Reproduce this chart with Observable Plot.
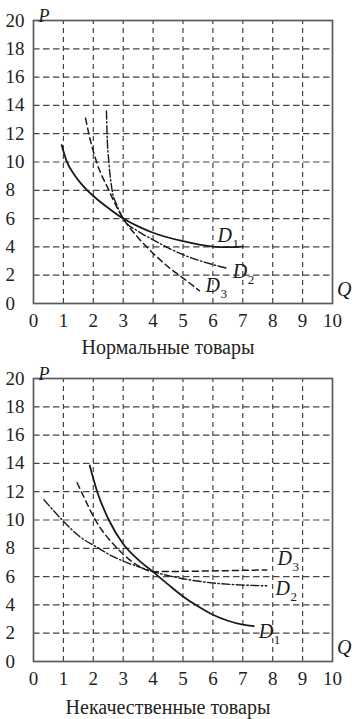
<!DOCTYPE html>
<html>
<head>
<meta charset="utf-8">
<script src="https://cdn.jsdelivr.net/npm/d3@7"></script>
<script src="https://cdn.jsdelivr.net/npm/@observablehq/plot@0.6"></script>
<style>
  html, body { margin: 0; padding: 0; background: #fff; }
  body { width: 364px; font-family: "Liberation Serif", "DejaVu Serif", serif; }
  .cap { width: 336px; text-align: center; font-size: 20px; line-height: 25px; height: 25px; color: #222; }
  svg { display: block; }
</style>
</head>
<body>
<div id="c1"></div>
<div class="cap" id="cap1" style="margin-top:2px"></div>
<div id="c2"></div>
<div class="cap" id="cap2" style="margin-top:4px"></div>
<script>
// Axis ticks
const qTicks = [0, 1, 2, 3, 4, 5, 6, 7, 8, 9, 10];
const pTicks = [0, 2, 4, 6, 8, 10, 12, 14, 16, 18, 20];
const qGrid = [1, 2, 3, 4, 5, 6, 7, 8, 9];
const pGrid = [2, 4, 6, 8, 10, 12, 14, 16, 18];

// Chart 1: normal goods
const normalCaption = "Нормальные товары";
const normD1Q = [0.94, 1.1, 1.4, 1.8, 2.0, 2.5, 3.0, 3.5, 4.0, 5.0, 6.0, 6.5, 7.0];
const normD1P = [11.2, 10.1, 9.0, 8.0, 7.6, 6.75, 6.0, 5.45, 5.0, 4.4, 4.02, 3.98, 4.02];
const normD2Q = [2.44, 2.46, 2.52, 2.63, 2.78, 3.0, 3.5, 4.0, 5.0, 6.0, 6.45];
const normD2P = [13.6, 12.0, 10.0, 8.0, 7.0, 6.0, 5.1, 4.5, 3.45, 2.75, 2.5];
const normD3Q = [1.74, 1.85, 2.11, 2.52, 2.74, 3.0, 3.5, 4.0, 4.5, 5.0, 5.55];
const normD3P = [13.1, 12.0, 10.0, 8.0, 7.0, 6.0, 4.65, 3.55, 2.6, 1.8, 0.9];
const normLabelQ = [6.15, 6.66, 5.75];
const normLabelP = [4.8, 2.26, 1.24];

// Chart 2: inferior goods
const inferiorCaption = "Некачественные товары";
const infD1Q = [1.88, 2.13, 2.52, 3.0, 3.5, 4.0, 4.5, 5.0, 5.5, 6.0, 6.5, 7.0, 7.37];
const infD1P = [13.85, 12.0, 10.0, 8.3, 7.2, 6.33, 5.45, 4.6, 3.9, 3.3, 2.88, 2.6, 2.5];
const infD2Q = [0.35, 0.96, 1.5, 2.18, 2.58, 3.0, 3.5, 4.0, 5.0, 6.0, 7.0, 7.8];
const infD2P = [11.43, 10.0, 8.9, 8.0, 7.5, 7.1, 6.7, 6.35, 5.85, 5.55, 5.4, 5.35];
const infD3Q = [1.46, 1.6, 2.07, 2.8, 3.3, 3.6, 4.0, 5.0, 6.0, 7.0, 7.8];
const infD3P = [12.63, 12.0, 10.0, 8.0, 7.05, 6.65, 6.35, 6.37, 6.4, 6.44, 6.47];
const infLabelQ = [7.53, 8.09, 8.16];
const infLabelP = [2.08, 5.15, 7.28];

const labelMain = ["D", "D", "D"];
const labelSub = ["1", "2", "3"];

const ink = "#1a1a1a";
const serif = '"Liberation Serif", "DejaVu Serif", serif';
const styles = [
  {strokeWidth: 1.8},
  {strokeWidth: 1.4, strokeDasharray: "8,2.5,1.5,2.5"},
  {strokeWidth: 1.5, strokeDasharray: "6,4"}
];

function pts(Q, P) { return Q.map((q, i) => ({q, p: P[i]})); }

function chart(curves, lq, lp, marginTop) {
  const labels = lq.map((q, i) => ({q, p: lp[i], main: labelMain[i], sub: labelSub[i]}));
  const marks = [
    Plot.ruleX(qGrid, {x: d => d, y1: 0, y2: 20, stroke: "#444", strokeWidth: 1.2, strokeDasharray: "5,4"}),
    Plot.ruleY(pGrid, {y: d => d, x1: 0, x2: 10, stroke: "#444", strokeWidth: 1.2, strokeDasharray: "6.5,3.5"}),
    Plot.frame({stroke: "#5a5a5a", strokeWidth: 1.7}),
    Plot.axisX({ticks: qTicks, tickSize: 0, tickPadding: 10, tickFormat: d => String(d), label: null, fontSize: 19, fontFamily: serif}),
    Plot.axisY({ticks: pTicks, tickSize: 0, textAnchor: "start", dx: -19, tickFormat: d => String(d), label: null, fontSize: 19, fontFamily: serif}),
    ...curves.map((c, i) => Plot.line(c, {x: "q", y: "p", curve: "monotone-x", stroke: ink, ...styles[i]})),
    Plot.text(labels, {x: "q", y: "p", text: "main", textAnchor: "start", fontStyle: "italic", fontSize: 20, fill: ink}),
    Plot.text(labels, {x: "q", y: "p", text: "sub", textAnchor: "start", dx: 15, dy: 8, fontSize: 13, fill: ink}),
    Plot.text(["P"], {text: d => d, frameAnchor: "top-left", dx: 5, dy: -11, fontStyle: "italic", fontSize: 18, fill: ink}),
    Plot.text(["Q"], {text: d => d, frameAnchor: "bottom-right", dx: 19, dy: -8, fontStyle: "italic", fontSize: 20, fill: ink})
  ];
  return Plot.plot({
    width: 364,
    height: marginTop + 283 + 30,
    marginLeft: 33,
    marginRight: 32,
    marginTop,
    marginBottom: 30,
    x: {domain: [0, 10]},
    y: {domain: [0, 20]},
    style: {fontFamily: serif, fontSize: "19px", color: "#222", background: "#fff"},
    marks
  });
}

document.getElementById("c1").append(chart(
  [pts(normD1Q, normD1P), pts(normD2Q, normD2P), pts(normD3Q, normD3P)],
  normLabelQ, normLabelP, 20));
document.getElementById("cap1").textContent = normalCaption;
document.getElementById("c2").append(chart(
  [pts(infD1Q, infD1P), pts(infD2Q, infD2P), pts(infD3Q, infD3P)],
  infLabelQ, infLabelP, 18));
document.getElementById("cap2").textContent = inferiorCaption;
</script>
</body>
</html>
